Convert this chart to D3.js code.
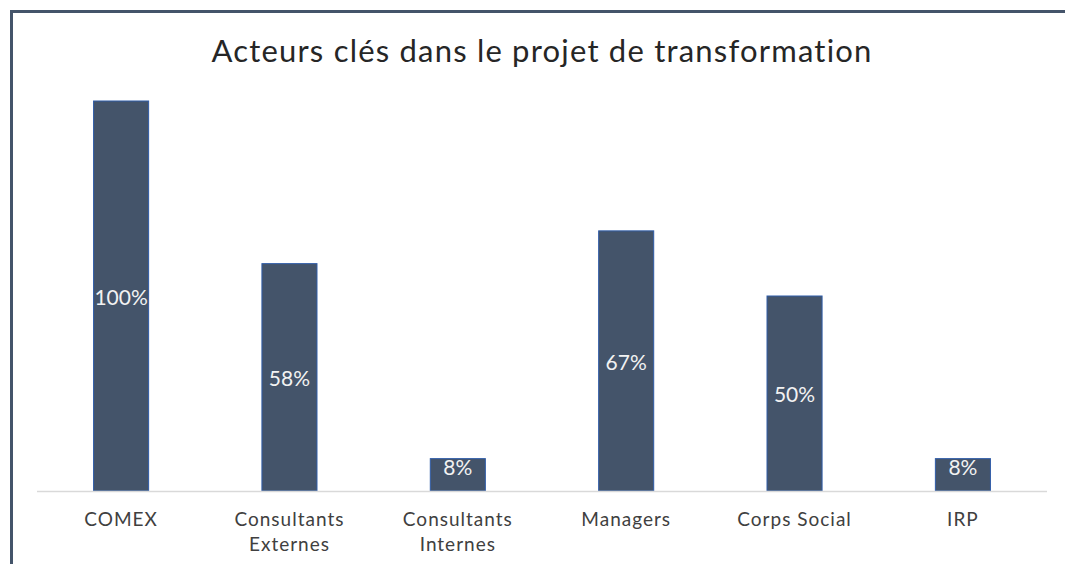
<!DOCTYPE html>
<meta charset="utf-8">
<style>
    body { margin: 0; background: #fff; }
    svg text { font-family: "Century Gothic", Lato, "Open Sans", sans-serif; }
    .title { fill: #262626; font-size: 31px; letter-spacing: 1.2px; text-anchor: middle; }
    .cat text { fill: #404040; font-size: 19px; letter-spacing: 1px; text-anchor: middle; }
    .bar rect { fill: #44546a; stroke: #2f5ca8; stroke-width: 1; }
    .bar text { fill: #f2f2f2; font-size: 21px; text-anchor: middle; }
</style>
<svg class="chart"></svg>
<script src="https://cdn.jsdelivr.net/npm/d3@7"></script>
<script>
    var title = "Acteurs clés dans le projet de transformation";
    var categories = [["COMEX"], ["Consultants", "Externes"], ["Consultants", "Internes"],
        ["Managers"], ["Corps Social"], ["IRP"]];
    var values = [100, 58.3, 8.3, 66.7, 50, 8.3];

    function drawChart() {
        var width = 1065,
            height = 564;

        var svg = d3.select(".chart")
            .attr("width", width)
            .attr("height", height);

        // frame (left + top edges visible in the screenshot)
        svg.append("path")
            .attr("d", "M11.5," + height + "V11.5H" + width)
            .attr("fill", "none")
            .attr("stroke", "#44546a")
            .attr("stroke-width", 3);

        svg.append("text")
            .attr("class", "title")
            .attr("x", 542)
            .attr("y", 62)
            .text(title);

        var x = d3.scaleBand()
            .domain(d3.range(categories.length))
            .range([37, 1047])
            .paddingInner(0.667)
            .paddingOuter(0.333);

        var y = d3.scaleLinear()
            .domain([0, 100])
            .range([491, 101]);

        var bar = svg.selectAll(".bar")
            .data(values)
            .enter().append("g")
            .attr("class", "bar");

        bar.append("rect")
            .attr("x", function (d, i) { return x(i) + 0.5; })
            .attr("y", function (d) { return y(d); })
            .attr("width", x.bandwidth() - 1)
            .attr("height", function (d) { return y(0) - y(d); });

        // centred label, pinned to the top when the bar is too short
        bar.append("text")
            .attr("x", function (d, i) { return x(i) + x.bandwidth() / 2; })
            .attr("y", function (d) {
                var h = y(0) - y(d);
                return h < 40 ? y(d) + 9 : (y(d) + y(0)) / 2 + 1.5;
            })
            .attr("dy", ".35em")
            .text(function (d) { return Math.round(d) + "%"; });

        // baseline
        svg.append("line")
            .attr("x1", 37)
            .attr("x2", 1047)
            .attr("y1", y(0) + 0.5)
            .attr("y2", y(0) + 0.5)
            .attr("stroke", "#d9d9d9")
            .attr("stroke-width", 1.5);

        var cat = svg.selectAll(".cat")
            .data(categories)
            .enter().append("g")
            .attr("class", "cat")
            .attr("transform", function (d, i) {
                return "translate(" + (x(i) + x.bandwidth() / 2) + ",526)";
            });

        cat.selectAll("text")
            .data(function (d) { return d; })
            .enter().append("text")
            .attr("y", function (d, j) { return j * 25; })
            .text(function (d) { return d; });
    }
    drawChart();
</script>
